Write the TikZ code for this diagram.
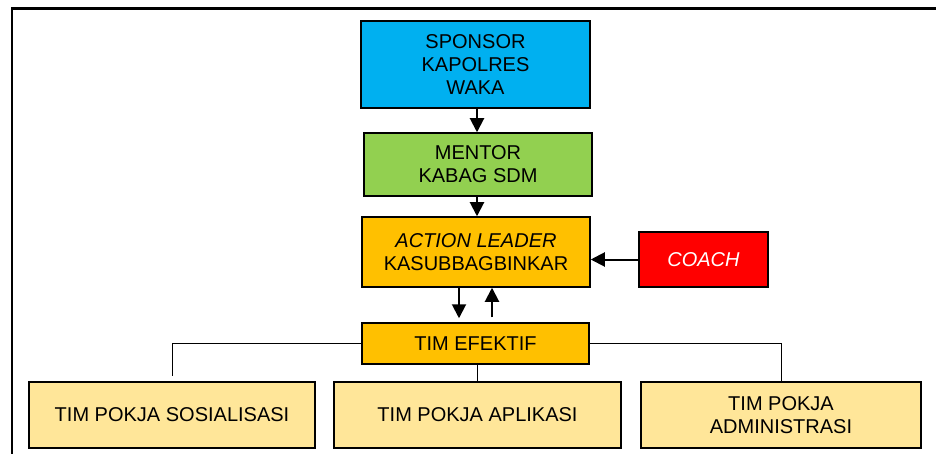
\documentclass[tikz,border=0pt]{standalone}
\usepackage{fontspec}
\setmainfont{Liberation Sans}
\usetikzlibrary{arrows.meta}
\definecolor{sponsorblue}{RGB}{0,176,240}
\definecolor{mentorgreen}{RGB}{146,208,80}
\definecolor{leaderorange}{RGB}{255,192,0}
\definecolor{pokjayellow}{RGB}{255,230,153}

\begin{document}
\begin{tikzpicture}[x=1pt,y=-1pt,
  box/.style={draw,line width=1.5pt,align=center,inner sep=2pt,
    font=\fontsize{20}{23}\selectfont},
  arr/.style={line width=2pt,-{Triangle[length=14pt,width=14pt]}},
  link/.style={line width=1pt}]
  \useasboundingbox (0,0) rectangle (936,454);
  % frame
  \draw[line width=3pt] (11,8.5) -- (936,8.5);
  \draw[line width=2.5pt] (12,8) -- (12,454);
  % nodes
  \node[box,fill=sponsorblue,minimum width=229pt,minimum height=87pt] (sponsor) at (475.5,64.5) {SPONSOR\\KAPOLRES\\WAKA};
  \node[box,fill=mentorgreen,minimum width=228pt,minimum height=63pt] (mentor) at (478,164.5) {MENTOR\\KABAG SDM};
  \node[box,fill=leaderorange,minimum width=228pt,minimum height=70pt] (leader) at (476,252) {\textit{ACTION LEADER}\\KASUBBAGBINKAR};
  \node[box,fill=red,text=white,font=\fontsize{20}{23}\selectfont\itshape,minimum width=129pt,minimum height=55pt] (coach) at (703.5,259.5) {COACH};
  \node[box,fill=leaderorange,minimum width=227pt,minimum height=41pt] (tim) at (475.5,343.5) {TIM EFEKTIF};
  \node[box,fill=pokjayellow,minimum width=286pt,minimum height=66pt] (sos) at (172,415) {TIM POKJA SOSIALISASI};
  \node[box,fill=pokjayellow,minimum width=287pt,minimum height=66pt] (apl) at (477.5,415) {TIM POKJA APLIKASI};
  \node[box,fill=pokjayellow,minimum width=280pt,minimum height=66pt] (adm) at (781,415) {TIM POKJA\\ADMINISTRASI};
  % arrows
  \draw[arr] (sponsor.south -| 477,0) -- (mentor.north -| 477,0);
  \draw[arr] (mentor.south -| 477,0) -- (leader.north -| 477,0);
  \draw[arr] (coach.west) -- (coach.west -| leader.east);
  \draw[arr,shorten >=4pt] (leader.south -| 459,0) -- (tim.north -| 459,0);
  \draw[arr,shorten <=5pt] (tim.north -| 492,0) -- (leader.south -| 492,0);
  % links
  \draw[link,shorten >=5pt] (tim.west) -| (sos.north);
  \draw[link] (tim.south -| apl.north) -- (apl.north);
  \draw[link] (tim.east) -| (adm.north);
\end{tikzpicture}
\end{document}
